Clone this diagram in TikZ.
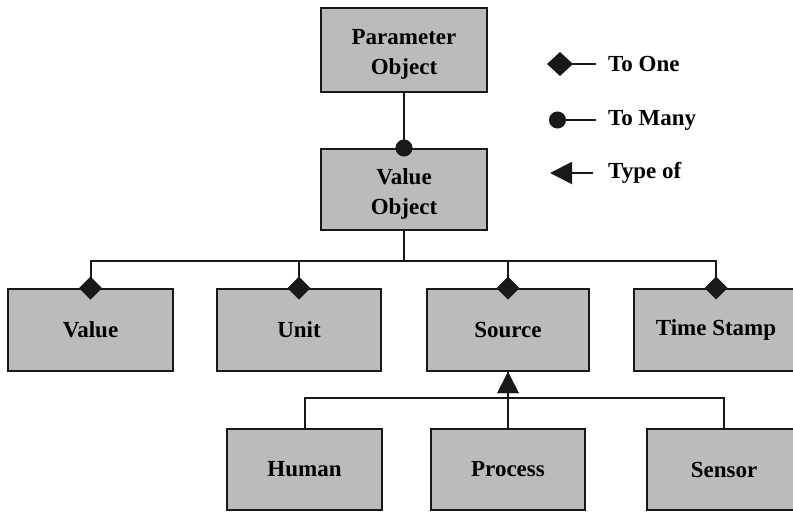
\documentclass[tikz,border=0pt]{standalone}
\usepackage{fontspec}
\setmainfont{Liberation Serif}
\usepackage{tikz}
\usetikzlibrary{arrows.meta}

\definecolor{boxgray}{RGB}{187,187,187}
\definecolor{linegray}{RGB}{25,25,25}

\begin{document}
\begin{tikzpicture}[x=1pt,y=-1pt,
    box/.style={draw=linegray,fill=boxgray,line width=2pt,align=center,
      inner sep=0pt,font=\bfseries\fontsize{23}{30}\selectfont},
    lab/.style={anchor=west,inner sep=0pt,font=\bfseries\fontsize{23}{30}\selectfont},
    conn/.style={draw=linegray,line width=2pt},
    toone/.style={conn,-{Diamond[length=23pt,width=23pt]},shorten >=-11.5pt},
    tomany/.style={conn,-{Circle[length=17pt]},shorten >=-8.5pt},
    typeof/.style={conn,-{Triangle[length=21pt,width=21pt]}}]
  \useasboundingbox (0,0) rectangle (793,512);
  \clip (0,0) rectangle (793,512);

  % boxes
  \node[box,minimum width=166pt,minimum height=84pt] (param) at (404,50) {\rule{0pt}{24pt}Parameter\\Object};
  \node[box,minimum width=166pt,minimum height=81pt] (vobj) at (404,189.5) {\rule{0pt}{24pt}Value\\Object};
  \node[box,minimum width=165pt,minimum height=82pt] (value) at (90.5,330) {Value};
  \node[box,minimum width=164pt,minimum height=82pt] (unit) at (299,330) {Unit};
  \node[box,minimum width=162pt,minimum height=82pt] (source) at (508,330) {Source};
  \node[box,minimum width=165pt,minimum height=82pt] (stamp) at (716,330) {Time Stamp};
  \node[box,minimum width=155pt,minimum height=81pt] (human) at (304.5,469.5) {Human};
  \node[box,minimum width=154pt,minimum height=81pt] (process) at (508,469.5) {Process};
  \node[box,minimum width=155pt,minimum height=81pt] (sensor) at (724,469.5) {Sensor};

  % links
  \draw[tomany] (param.south) -- (vobj.north);
  \foreach \c in {value,unit,source,stamp}
    \draw[toone] (vobj.south) -- ++(0,29.5) -| (\c.north);
  \draw[typeof] (human.north) -- ++(0,-30) -| (source.south);
  \draw[typeof] (process.north) -- (source.south);
  \draw[conn] (sensor.north) -- ++(0,-30) -| (source.south);

  % legend
  \node[lab] (one) at (608,64) {To One};
  \node[lab] (many) at (608,120) {To Many};
  \node[lab] (kind) at (608,173) {Type of};
  \coordinate (oneA) at (596,64);   \coordinate (oneB) at (547,64);
  \coordinate (manyA) at (596,120); \coordinate (manyB) at (549,120);
  \coordinate (kindA) at (593,173); \coordinate (kindB) at (550,173);
  \draw[conn,-{Diamond[length=26pt,width=24pt]}] (oneA) -- (oneB);
  \draw[conn,-{Circle[length=17pt]}] (manyA) -- (manyB);
  \draw[conn,-{Triangle[length=22pt,width=22pt]}] (kindA) -- (kindB);
\end{tikzpicture}
\end{document}
